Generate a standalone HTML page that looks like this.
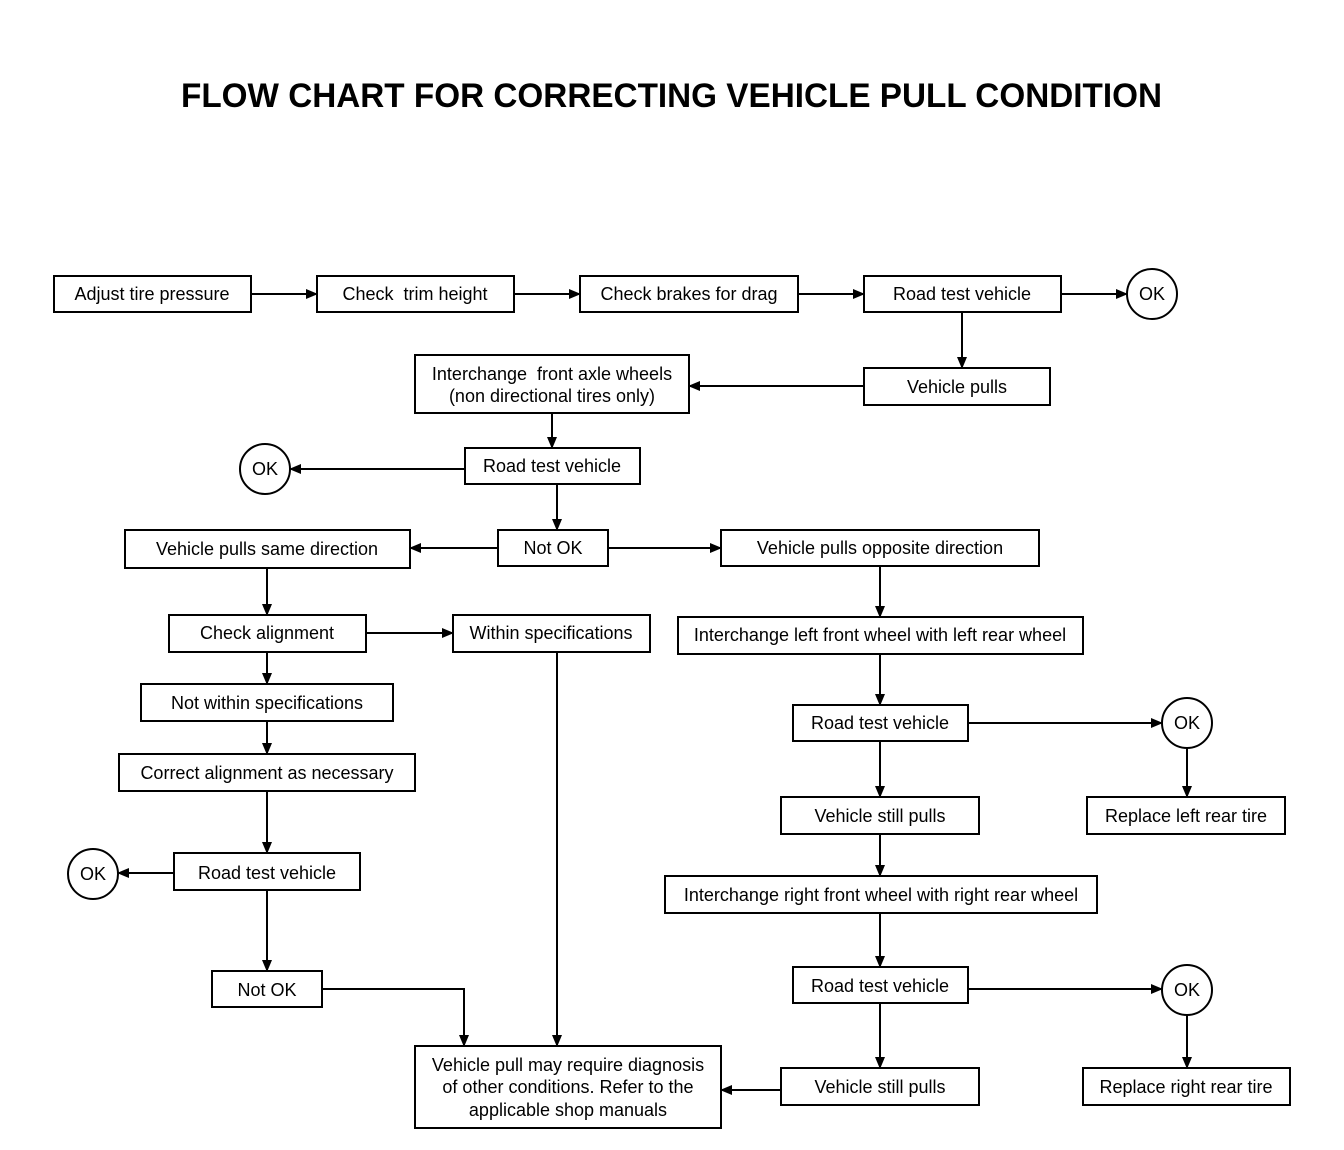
<!DOCTYPE html>
<html><head><meta charset="utf-8"><style>
html,body{margin:0;padding:0;background:#fff;}
svg{display:block;}
text{font-family:"Liberation Sans",Arial,sans-serif;font-size:18px;fill:#000;}
</style></head><body>
<svg width="1344" height="1150" viewBox="0 0 1344 1150" xmlns="http://www.w3.org/2000/svg">
<defs><marker id="a" markerWidth="12" markerHeight="10" refX="11" refY="5" orient="auto" markerUnits="userSpaceOnUse"><path d="M0,0 L12,5 L0,10 z" fill="#000"/></marker></defs>
<text x="181" y="107" textLength="981" lengthAdjust="spacingAndGlyphs" style="font-size:34px;font-weight:bold">FLOW CHART FOR CORRECTING VEHICLE PULL CONDITION</text>
<g fill="none" stroke="#000" stroke-width="2">
<rect x="54" y="276" width="197" height="36"/>
<rect x="317" y="276" width="197" height="36"/>
<rect x="580" y="276" width="218" height="36"/>
<rect x="864" y="276" width="197" height="36"/>
<circle cx="1152" cy="294" r="25"/>
<rect x="864" y="368" width="186" height="37"/>
<rect x="415" y="355" width="274" height="58"/>
<rect x="465" y="448" width="175" height="36"/>
<circle cx="265" cy="469" r="25"/>
<rect x="498" y="530" width="110" height="36"/>
<rect x="125" y="530" width="285" height="38"/>
<rect x="721" y="530" width="318" height="36"/>
<rect x="169" y="615" width="197" height="37"/>
<rect x="453" y="615" width="197" height="37"/>
<rect x="141" y="684" width="252" height="37"/>
<rect x="119" y="754" width="296" height="37"/>
<rect x="174" y="853" width="186" height="37"/>
<circle cx="93" cy="874" r="25"/>
<rect x="212" y="971" width="110" height="36"/>
<rect x="415" y="1046" width="306" height="82"/>
<rect x="678" y="617" width="405" height="37"/>
<rect x="793" y="705" width="175" height="36"/>
<circle cx="1187" cy="723" r="25"/>
<rect x="1087" y="797" width="198" height="37"/>
<rect x="781" y="797" width="198" height="37"/>
<rect x="665" y="876" width="432" height="37"/>
<rect x="793" y="967" width="175" height="36"/>
<circle cx="1187" cy="990" r="25"/>
<rect x="1083" y="1068" width="207" height="37"/>
<rect x="781" y="1068" width="198" height="37"/>
</g>
<g stroke="#000" stroke-width="2" fill="none" marker-end="url(#a)">
<path d="M251,294H317"/><path d="M514,294H580"/><path d="M798,294H864"/><path d="M1061,294H1127"/>
<path d="M962,312V368"/><path d="M864,386H689"/><path d="M552,413V448"/><path d="M465,469H290"/>
<path d="M557,484V530"/><path d="M498,548H410"/><path d="M608,548H721"/>
<path d="M267,568V615"/><path d="M366,633H453"/><path d="M267,652V684"/><path d="M267,721V754"/>
<path d="M267,791V853"/><path d="M174,873H118"/><path d="M267,890V971"/>
<path d="M322,989H464V1046"/><path d="M557,652V1046"/>
<path d="M880,566V617"/><path d="M880,654V705"/><path d="M968,723H1162"/><path d="M1187,748V797"/>
<path d="M880,741V797"/><path d="M880,834V876"/><path d="M880,913V967"/><path d="M968,989H1162"/>
<path d="M1187,1015V1068"/><path d="M880,1003V1068"/><path d="M781,1090H721"/>
</g>
<g text-anchor="middle">
<text x="152" y="300">Adjust tire pressure</text>
<text x="415" y="300">Check &#160;trim height</text>
<text x="689" y="300">Check brakes for drag</text>
<text x="962" y="300">Road test vehicle</text>
<text x="1152" y="300">OK</text>
<text x="957" y="393">Vehicle pulls</text>
<text x="552" y="380">Interchange &#160;front axle wheels</text>
<text x="552" y="402">(non directional tires only)</text>
<text x="552" y="472">Road test vehicle</text>
<text x="265" y="475">OK</text>
<text x="553" y="554">Not OK</text>
<text x="267" y="555">Vehicle pulls same direction</text>
<text x="880" y="554">Vehicle pulls opposite direction</text>
<text x="267" y="639">Check alignment</text>
<text x="551" y="639">Within specifications</text>
<text x="267" y="709">Not within specifications</text>
<text x="267" y="779">Correct alignment as necessary</text>
<text x="267" y="879">Road test vehicle</text>
<text x="93" y="880">OK</text>
<text x="267" y="996">Not OK</text>
<text x="568" y="1071">Vehicle pull may require diagnosis</text>
<text x="568" y="1093">of other conditions. Refer to the</text>
<text x="568" y="1116">applicable shop manuals</text>
<text x="880" y="641">Interchange left front wheel with left rear wheel</text>
<text x="880" y="729">Road test vehicle</text>
<text x="1187" y="729">OK</text>
<text x="1186" y="822">Replace left rear tire</text>
<text x="880" y="822">Vehicle still pulls</text>
<text x="881" y="901">Interchange right front wheel with right rear wheel</text>
<text x="880" y="992">Road test vehicle</text>
<text x="1187" y="996">OK</text>
<text x="1186" y="1093">Replace right rear tire</text>
<text x="880" y="1093">Vehicle still pulls</text>
</g>
</svg>
</body></html>
